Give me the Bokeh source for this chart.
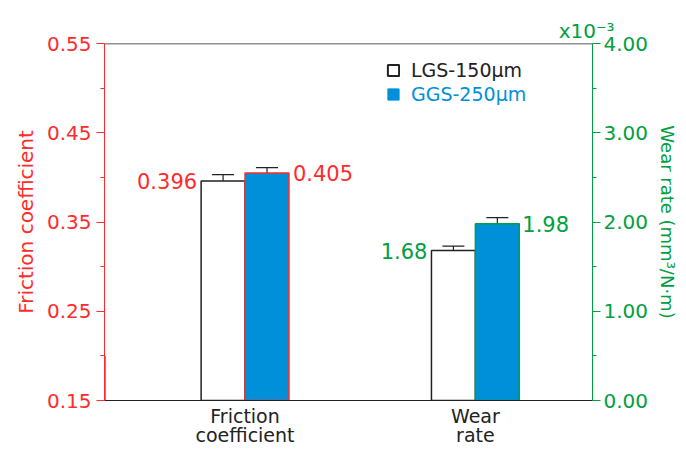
from bokeh.plotting import figure
from bokeh.models import (Range1d, LinearAxis, FixedTicker, ColumnDataSource, Whisker,
                          TeeHead, Legend, LegendItem, NumeralTickFormatter, Span)
from bokeh.core.properties import value
from bokeh.embed import file_html
from bokeh.resources import INLINE

# ---- data ----
categories = ["Friction\ncoefficient", "Wear\nrate"]
cat_pos = [2.88, 7.60]
series = ["LGS-150μm", "GGS-250μm"]
friction = [0.396, 0.405]          # LGS, GGS
friction_err = [0.007, 0.006]
friction_labels = ["0.396", "0.405"]
wear = [1.68, 1.98]                # x10^-3 mm3/N.m
wear_err = [0.05, 0.07]
wear_labels = ["1.68", "1.98"]
left_ticks = [0.15, 0.25, 0.35, 0.45, 0.55]
left_minor = [0.20, 0.30, 0.40, 0.50]
right_ticks = [0, 1, 2, 3, 4]
right_minor = [0.5, 1.5, 2.5, 3.5]

RED = "#ff2b2b"
GREEN = "#00a040"
BLUE = "#0090da"
DARK = "#222222"
FONT = "DejaVu Sans"
BW = 0.9
FH = 357

p = figure(frame_width=488, frame_height=FH, output_backend="svg", toolbar_location=None,
           x_range=Range1d(0, 10), y_range=Range1d(0.15, 0.55),
           min_border_left=104, min_border_right=80, min_border_top=43, min_border_bottom=40)
p.extra_y_ranges = {"wear": Range1d(0, 4)}
p.xgrid.visible = False
p.ygrid.visible = False
p.outline_line_color = None
p.background_fill_color = "white"

# multiplier as title
p.title.text = "x10⁻³"
p.title.align = "right"
p.title.offset = -22
p.title.standoff = 2
p.title.text_color = GREEN
p.title.text_font = FONT
p.title.text_font_size = "20px"
p.title.text_font_style = "normal"

# left axis
ya = p.yaxis[0]
ya.ticker = FixedTicker(ticks=left_ticks, minor_ticks=left_minor)
ya.formatter = NumeralTickFormatter(format="0.00")
ya.axis_line_color = RED
ya.major_tick_line_color = RED
ya.minor_tick_line_color = RED
ya.major_tick_out = 8
ya.major_tick_in = 0
ya.minor_tick_out = 4
ya.minor_tick_in = 0
ya.major_label_text_color = RED
ya.major_label_text_font = FONT
ya.major_label_text_font_size = "20px"
ya.major_label_standoff = 5
ya.axis_label = "Friction coefficient"
ya.axis_label_text_color = RED
ya.axis_label_text_font = FONT
ya.axis_label_text_font_size = "20px"
ya.axis_label_text_font_style = "normal"
ya.axis_label_standoff = 6

# right axis
ra = LinearAxis(y_range_name="wear", ticker=FixedTicker(ticks=right_ticks, minor_ticks=right_minor),
                formatter=NumeralTickFormatter(format="0.00"))
ra.axis_line_color = GREEN
ra.major_tick_line_color = GREEN
ra.minor_tick_line_color = GREEN
ra.major_tick_out = 8
ra.major_tick_in = 0
ra.minor_tick_out = 4
ra.minor_tick_in = 0
ra.major_label_text_color = GREEN
ra.major_label_text_font = FONT
ra.major_label_text_font_size = "20px"
ra.major_label_standoff = 3
ra.axis_label = "Wear rate (mm³/N·m)"
ra.axis_label_text_color = GREEN
ra.axis_label_text_font = FONT
ra.axis_label_text_font_size = "18px"
ra.axis_label_text_font_style = "normal"
ra.axis_label_standoff = 6
p.add_layout(ra, "right")

# bottom axis
xa = p.xaxis[0]
xa.ticker = FixedTicker(ticks=cat_pos)
xa.major_label_overrides = {cat_pos[i]: categories[i] for i in range(2)}
xa.axis_line_color = DARK
xa.major_tick_line_color = None
xa.minor_tick_line_color = None
xa.major_tick_out = 0
xa.major_tick_in = 0
xa.major_label_standoff = 4
xa.major_label_text_font = FONT
xa.major_label_text_font_size = "19px"
xa.major_label_text_line_height = 0.9
xa.major_label_text_color = DARK

# top border
p.add_layout(Span(location=0.55, dimension="width", line_color=DARK, line_width=1.5))

# ---- bars ----
fx = [cat_pos[0] - BW / 2, cat_pos[0] + BW / 2]
wx = [cat_pos[1] - BW / 2, cat_pos[1] + BW / 2]
fills = ["white", BLUE]

p.vbar(x=fx[0], width=BW, bottom=0.15, top=friction[0], fill_color=fills[0],
       line_color=DARK, line_width=1.5)
p.vbar(x=fx[1], width=BW, bottom=0.15, top=friction[1], fill_color=fills[1],
       line_color=RED, line_width=1.5)
p.vbar(x=wx[0], width=BW, bottom=0, top=wear[0], fill_color=fills[0],
       line_color=DARK, line_width=1.5, y_range_name="wear")
p.vbar(x=wx[1], width=BW, bottom=0, top=wear[1], fill_color=fills[1],
       line_color=GREEN, line_width=1.5, y_range_name="wear")

# error bars
fsrc = ColumnDataSource(dict(x=fx, lo=[friction[i] - friction_err[i] for i in range(2)],
                             hi=[friction[i] + friction_err[i] for i in range(2)]))
wsrc = ColumnDataSource(dict(x=wx, lo=[wear[i] - wear_err[i] for i in range(2)],
                             hi=[wear[i] + wear_err[i] for i in range(2)]))
for src, rn in ((fsrc, "default"), (wsrc, "wear")):
    w = Whisker(base="x", lower="lo", upper="hi", source=src, line_color=DARK, line_width=1.2,
                upper_head=TeeHead(size=22, line_color=DARK, line_width=1.2),
                lower_head=TeeHead(size=22, line_color=DARK, line_width=1.2),
                y_range_name=rn)
    p.add_layout(w)

# value labels
p.text(x=[fx[0] - BW / 2], y=[friction[0]], text=[friction_labels[0]], x_offset=-4,
       text_align="right", text_baseline="middle", text_color=RED,
       text_font=value(FONT), text_font_size="21px")
p.text(x=[fx[1] + BW / 2], y=[friction[1]], text=[friction_labels[1]], x_offset=4,
       text_align="left", text_baseline="middle", text_color=RED,
       text_font=value(FONT), text_font_size="21px")
p.text(x=[wx[0] - BW / 2], y=[wear[0]], text=[wear_labels[0]], x_offset=-4,
       text_align="right", text_baseline="middle", text_color=GREEN,
       text_font=value(FONT), text_font_size="21px", y_range_name="wear")
p.text(x=[wx[1] + BW / 2], y=[wear[1]], text=[wear_labels[1]], x_offset=3,
       text_align="left", text_baseline="middle", text_color=GREEN,
       text_font=value(FONT), text_font_size="21px", y_range_name="wear")

# legend (two legends for the two text colours); sample glyphs sit outside the visible range
r_lgs = p.vbar(x=[-50], width=BW, top=[0.2], bottom=[0.15], fill_color="white",
               line_color=DARK, line_width=2)
r_ggs = p.vbar(x=[-50], width=BW, top=[0.2], bottom=[0.15], fill_color=BLUE,
               line_color=BLUE, line_width=1)
for item, col, yloc in ((LegendItem(label=series[0], renderers=[r_lgs]), DARK, FH - 38),
                        (LegendItem(label=series[1], renderers=[r_ggs]), BLUE, FH - 62)):
    lg = Legend(items=[item], location=(282, yloc), border_line_color=None,
                background_fill_alpha=0, padding=0, margin=0, glyph_width=14, glyph_height=14,
                label_height=20, label_standoff=11, label_text_color=col,
                label_text_font=FONT, label_text_font_size="19px")
    p.add_layout(lg)

open("out.html", "w").write(file_html(p, INLINE))
